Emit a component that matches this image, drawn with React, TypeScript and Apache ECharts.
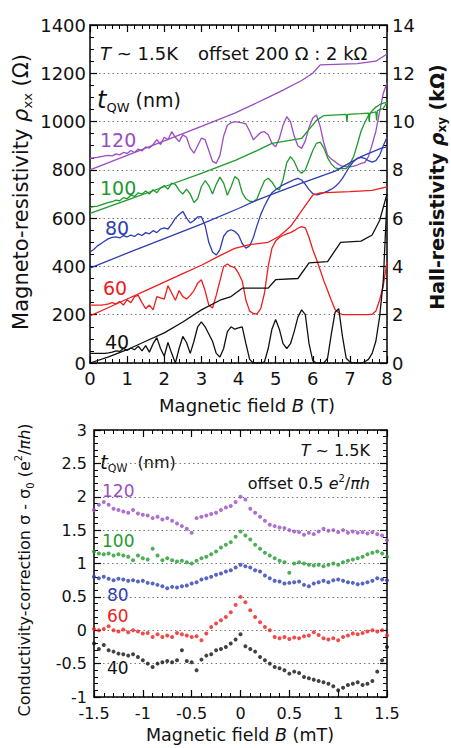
import React, { useEffect, useRef } from 'react';
import * as echarts from 'echarts';

// ---------- Top panel: magneto-resistivity (Ω) vs B (T), step 0.1 T ----------
const fieldT = Array.from({ length: 81 }, (_, i) => i / 10);

const rhoXX40 = [40, 40, 40, 40, 40, 42, 45, 50, 48, 60, 52, 62, 55, 70, 50, 72, 45, 80, 105, 60, 28, 85, 40, 0, 60, 110, 85, 40, 90, 150, 170, 150, 120, 90, 40, 25, 60, 130, 150, 140, 145, 150, 80, 15, 0, 0, 0, 5, 60, 140, 180, 140, 80, 60, 80, 130, 190, 220, 200, 80, 10, 0, 0, 0, 20, 120, 210, 225, 110, 20, 5, 0, 0, 0, 5, 15, 40, 90, 190, 340, 680];
const rhoXX60 = [240, 240, 240, 240, 242, 245, 250, 245, 255, 240, 262, 250, 275, 280, 250, 225, 240, 220, 275, 270, 265, 320, 290, 260, 300, 275, 265, 280, 300, 330, 345, 300, 240, 228, 280, 340, 400, 410, 400, 395, 372, 340, 260, 215, 205, 203, 225, 290, 400, 475, 505, 520, 528, 535, 540, 548, 558, 565, 560, 520, 470, 430, 385, 340, 300, 260, 222, 208, 200, 200, 200, 200, 200, 200, 200, 200, 202, 215, 260, 320, 420];
const rhoXX80 = [460, 470, 485, 495, 505, 515, 520, 522, 518, 528, 522, 530, 524, 535, 528, 540, 535, 548, 540, 555, 560, 555, 575, 600, 615, 628, 600, 580, 590, 605, 606, 570, 500, 460, 447, 470, 525, 545, 552, 545, 530, 495, 476, 485, 520, 570, 615, 650, 680, 705, 718, 728, 738, 745, 752, 760, 765, 758, 740, 718, 702, 696, 700, 706, 712, 720, 730, 745, 765, 790, 815, 835, 848, 852, 848, 838, 832, 838, 860, 900, 935];
const rhoXX100 = [645, 648, 650, 655, 660, 665, 668, 675, 672, 685, 680, 695, 690, 705, 700, 712, 700, 718, 705, 725, 735, 720, 745, 740, 715, 700, 720, 700, 665, 680, 730, 755, 735, 700, 740, 770, 745, 695, 730, 772, 760, 705, 680, 670, 668, 680, 720, 755, 765, 750, 725, 717, 760, 830, 855, 835, 800, 786, 800, 840, 880, 910, 915, 890, 850, 825, 808, 805, 805, 805, 825, 855, 905, 960, 995, 1025, 1045, 1060, 1070, 1076, 1080];
const rhoXX120 = [848, 850, 852, 855, 858, 860, 858, 866, 862, 872, 868, 880, 872, 886, 878, 895, 890, 905, 925, 905, 935, 925, 958, 935, 917, 945, 935, 890, 869, 900, 931, 925, 880, 835, 827, 860, 940, 985, 995, 1000, 998, 995, 990, 960, 925, 940, 955, 958, 945, 910, 896, 930, 985, 1020, 1000, 940, 900, 889, 920, 975, 1015, 1027, 980, 910, 860, 845, 834, 822, 815, 813, 812, 815, 820, 827, 830, 855, 905, 960, 1040, 1117, 1160];

// Hall resistivity (kΩ), sampled at plateau / step positions
const hallB40 = [0, 0.5, 1, 1.5, 2, 2.5, 3, 3.5, 3.8, 4.1, 4.8, 5.0, 5.6, 5.9, 6.4, 6.75, 7.3, 7.6, 7.8, 8.0];
const hall40 = [0, 0.25, 0.55, 0.9, 1.25, 1.7, 2.2, 2.6, 2.75, 3.1, 3.1, 3.45, 3.5, 4.15, 4.2, 5.0, 5.05, 5.3, 5.9, 7.0];
const hallB60 = [0, 0.5, 1, 1.5, 2, 2.5, 3, 3.5, 3.9, 4.3, 4.8, 5.1, 5.4, 5.7, 6.0, 6.2, 7.0, 7.6, 8.0];
const hall60 = [1.95, 2.3, 2.65, 3.0, 3.35, 3.7, 4.05, 4.45, 4.75, 4.9, 5.0, 5.25, 5.65, 6.3, 6.95, 7.05, 7.1, 7.15, 7.3];
const hallB80 = [0, 1, 2, 3, 4, 4.5, 5, 5.7, 6.6, 7.3, 7.85, 8];
const hall80 = [3.93, 4.55, 5.15, 5.75, 6.4, 6.75, 7.05, 7.45, 7.95, 8.55, 8.9, 8.95];
const hallB100 = [0, 1, 2, 3, 3.93, 4.5, 4.9, 5.7, 6.1, 6.3, 6.9, 6.92, 6.94, 7.3, 7.5, 7.52, 7.54, 7.7, 7.72, 7.74, 7.9, 8];
const hall100 = [6.2, 6.75, 7.3, 7.85, 8.4, 8.8, 9.1, 9.3, 10.05, 10.25, 10.3, 10.0, 10.3, 10.33, 10.35, 10.0, 10.35, 10.4, 10.05, 10.45, 10.55, 10.8];
const hallB120 = [0, 1, 2, 3, 3.9, 4.8, 5.2, 5.7, 6.0, 6.2, 7.2, 7.7, 8];
const hall120 = [8.0, 8.6, 9.2, 9.8, 10.35, 11.0, 11.3, 11.7, 12.0, 12.35, 12.4, 12.5, 12.8];

// ---------- Bottom panel: conductivity correction vs B (mT), step 0.05 mT ----------
const fieldMT = Array.from({ length: 61 }, (_, i) => (i - 30) / 20);

const sigma120 = [1.80, 1.88, 1.92, 1.88, 1.82, 1.80, 1.78, 1.76, 1.80, 1.75, 1.73, 1.72, 1.68, 1.70, 1.66, 1.68, 1.64, 1.60, 1.56, 1.52, 1.46, 1.68, 1.70, 1.72, 1.74, 1.76, 1.80, 1.84, 1.86, 1.92, 2.00, 1.96, 1.82, 1.76, 1.70, 1.64, 1.58, 1.56, 1.54, 1.53, 1.50, 1.48, 1.47, 1.43, 1.46, 1.44, 1.48, 1.52, 1.49, 1.50, 1.47, 1.50, 1.46, 1.48, 1.46, 1.47, 1.45, 1.47, 1.44, 1.42, 1.35];
const sigma100 = [1.18, 1.15, 1.14, 1.15, 1.12, 1.14, 1.12, 1.10, 1.05, 1.12, 1.08, 1.06, 1.22, 1.12, 1.05, 1.08, 1.05, 1.03, 1.04, 1.02, 1.00, 1.04, 1.08, 1.10, 1.14, 1.18, 1.24, 1.28, 1.32, 1.40, 1.48, 1.42, 1.36, 1.28, 1.22, 1.16, 1.12, 1.08, 1.04, 1.02, 0.86, 1.00, 1.02, 1.00, 0.98, 0.97, 0.98, 0.96, 0.98, 1.00, 0.98, 1.02, 1.04, 1.06, 1.08, 1.10, 1.14, 1.16, 1.18, 1.15, 1.10];
const sigma80 = [0.80, 0.78, 0.80, 0.77, 0.75, 0.77, 0.76, 0.74, 0.75, 0.73, 0.74, 0.71, 0.70, 0.68, 0.66, 0.63, 0.65, 0.64, 0.66, 0.67, 0.70, 0.72, 0.76, 0.78, 0.80, 0.83, 0.85, 0.88, 0.90, 0.94, 0.98, 0.96, 0.94, 0.90, 0.88, 0.82, 0.78, 0.74, 0.73, 0.70, 0.71, 0.72, 0.73, 0.68, 0.66, 0.70, 0.72, 0.74, 0.72, 0.75, 0.76, 0.74, 0.72, 0.71, 0.69, 0.70, 0.72, 0.74, 0.78, 0.76, 0.75];
const sigma60 = [0.02, 0.00, 0.02, 0.06, 0.00, -0.02, 0.01, -0.03, 0.00, -0.02, -0.05, -0.04, -0.10, -0.06, -0.10, -0.08, -0.10, -0.04, -0.06, -0.08, -0.10, -0.09, -0.15, -0.05, 0.05, 0.10, 0.15, 0.20, 0.27, 0.38, 0.50, 0.42, 0.30, 0.20, 0.12, 0.05, 0.00, -0.10, -0.12, -0.10, -0.13, -0.11, -0.12, -0.09, -0.08, -0.03, -0.07, -0.12, -0.14, -0.12, -0.15, -0.10, -0.08, -0.05, -0.06, -0.04, -0.02, 0.00, -0.02, 0.00, -0.08];
const sigma40 = [-0.20, -0.28, -0.22, -0.30, -0.32, -0.35, -0.36, -0.38, -0.36, -0.40, -0.45, -0.50, -0.55, -0.50, -0.48, -0.46, -0.48, -0.45, -0.30, -0.46, -0.48, -0.60, -0.44, -0.38, -0.36, -0.30, -0.28, -0.25, -0.20, -0.14, -0.06, -0.24, -0.28, -0.32, -0.40, -0.45, -0.50, -0.55, -0.57, -0.60, -0.65, -0.62, -0.64, -0.70, -0.72, -0.74, -0.76, -0.78, -0.80, -0.84, -0.90, -0.86, -0.82, -0.80, -0.78, -0.82, -0.80, -0.76, -0.62, -0.45, -0.25];

const thickness = ['120', '100', '80', '60', '40'];
const colors = { 120: '#9a4cc4', 100: '#1f9a2c', 80: '#2d3db3', 60: '#f01c1c', 40: '#111111' } as Record<string, string>;

const FONT = 'DejaVu Sans';

function pairs(xs: number[], ys: number[]) {
  return xs.map((x, i) => [x, ys[i]]);
}

const plain = (v: number) => String(v);

function frameAxisX(gridIndex: number, min: number, max: number, interval: number, top: boolean, fontSize: number, margin: number, lineHeight: number) {
  return {
    type: 'value', gridIndex, min, max, interval,
    position: top ? 'top' : 'bottom',
    axisLine: { show: true, onZero: false, lineStyle: { color: '#000', width: 1.5 } },
    axisTick: { show: true, inside: true, length: 7, lineStyle: { color: '#000', width: 1.2 } },
    minorTick: { show: true, splitNumber: 5, length: 4, lineStyle: { color: '#000', width: 1 } },
    axisLabel: { show: !top, margin, color: '#111', fontFamily: FONT, fontSize, lineHeight, formatter: plain },
    splitLine: { show: false },
  };
}

function frameAxisY(gridIndex: number, min: number, max: number, interval: number, right: boolean, showLabel: boolean, grid: boolean, fontSize: number, minorSplit: number, margin: number, lineHeight: number) {
  return {
    type: 'value', gridIndex, min, max, interval,
    position: right ? 'right' : 'left',
    axisLine: { show: true, onZero: false, lineStyle: { color: '#000', width: 1.5 } },
    axisTick: { show: true, inside: true, length: 7, lineStyle: { color: '#000', width: 1.2 } },
    minorTick: { show: true, splitNumber: minorSplit, length: 4, lineStyle: { color: '#000', width: 1 } },
    axisLabel: { show: showLabel, margin, color: '#111', fontFamily: FONT, fontSize, lineHeight, formatter: plain },
    splitLine: { show: grid, lineStyle: { color: '#777', width: 1, type: [1.5, 3] } },
  };
}

function txt(x: number, y: number, text: string, rich: any, align = 'left', rotation = 0) {
  return {
    type: 'text', x, y, rotation,
    style: { text, rich, align, verticalAlign: 'middle', textAlign: align, textVerticalAlign: 'middle', fill: '#111', fontFamily: FONT },
  };
}

export default function App() {
  const ref = useRef<HTMLDivElement>(null);
  useEffect(() => {
    if (!ref.current) return;
    const chart = echarts.init(ref.current, undefined, { renderer: 'svg' });

    const rhoMap: Record<string, number[]> = { 120: rhoXX120, 100: rhoXX100, 80: rhoXX80, 60: rhoXX60, 40: rhoXX40 };
    const hallMap: Record<string, [number[], number[]]> = {
      120: [hallB120, hall120], 100: [hallB100, hall100], 80: [hallB80, hall80], 60: [hallB60, hall60], 40: [hallB40, hall40],
    };
    const sigMap: Record<string, number[]> = { 120: sigma120, 100: sigma100, 80: sigma80, 60: sigma60, 40: sigma40 };

    const series: any[] = [];
    thickness.forEach((t) => {
      series.push({
        type: 'line', xAxisIndex: 0, yAxisIndex: 0, data: pairs(fieldT, rhoMap[t]),
        showSymbol: false, symbol: 'none', lineStyle: { color: colors[t], width: 1.3 }, silent: true,
      });
      series.push({
        type: 'line', xAxisIndex: 0, yAxisIndex: 1, data: pairs(hallMap[t][0], hallMap[t][1]),
        showSymbol: false, symbol: 'none', lineStyle: { color: colors[t], width: 1.3 }, silent: true,
      });
      series.push({
        type: 'scatter', xAxisIndex: 2, yAxisIndex: 2, data: pairs(fieldMT, sigMap[t]),
        symbol: 'circle', symbolSize: 4, itemStyle: { color: colors[t] }, silent: true,
      });
    });

    const base = (size: number, extra: any = {}) => ({ fontSize: size, fontFamily: FONT, fill: '#111', color: '#111', ...extra });

    const graphic: any[] = [
      // top panel annotations
      txt(100, 53, '{i|T}{a| ~ 1.5K}', { i: base(18, { fontStyle: 'italic' }), a: base(18) }),
      txt(198, 53, '{a|offset 200 Ω : 2 kΩ}', { a: base(18) }),
      txt(97, 100, '{t|t}{s|QW}{a| (nm)}', { t: base(24, { fontStyle: 'italic', lineHeight: 28 }), s: base(13, { verticalAlign: 'bottom', lineHeight: 14 }), a: base(19, { lineHeight: 28 }) }),
      txt(100, 140, '{a|120}', { a: base(19, { fill: colors['120'], color: colors['120'] }) }),
      txt(100, 188, '{a|100}', { a: base(19, { fill: colors['100'], color: colors['100'] }) }),
      txt(105, 228, '{a|80}', { a: base(19, { fill: colors['80'], color: colors['80'] }) }),
      txt(103, 288, '{a|60}', { a: base(19, { fill: colors['60'], color: colors['60'] }) }),
      txt(105, 342, '{a|40}', { a: base(19, { fill: colors['40'], color: colors['40'] }) }),
      // top panel axis names
      txt(21, 192, '{a|Magneto-resistivity }{i|ρ}{s|xx}{a| (Ω)}', {
        a: base(21, { lineHeight: 26 }), i: base(21, { fontStyle: 'italic', lineHeight: 26 }), s: base(13, { verticalAlign: 'bottom', lineHeight: 13 }),
      }, 'center', Math.PI / 2),
      txt(437, 187, '{a|Hall-resistivity }{i|ρ}{s|xy}{a| (kΩ)}', {
        a: base(19, { fontWeight: 'bold', lineHeight: 22 }), i: base(19, { fontWeight: 'bold', fontStyle: 'italic', lineHeight: 22 }), s: base(12, { fontWeight: 'bold', verticalAlign: 'bottom', lineHeight: 12 }),
      }, 'center', Math.PI / 2),
      txt(247, 405, '{a|Magnetic field }{i|B}{a| (T)}', { a: base(18), i: base(18, { fontStyle: 'italic' }) }, 'center'),
      // bottom panel annotations
      txt(370, 450, '{i|T}{a| ~ 1.5K}', { i: base(16, { fontStyle: 'italic' }), a: base(16) }, 'right'),
      txt(100, 462, '{t|t}{s|QW}{a|  (nm)}', { t: base(20, { fontStyle: 'italic', lineHeight: 24 }), s: base(11, { verticalAlign: 'bottom', lineHeight: 12 }), a: base(16, { lineHeight: 24 }) }),
      txt(370, 483, '{a|offset 0.5 }{i|e}{p|2}{a|/}{i|πh}', {
        a: base(16, { lineHeight: 20 }), i: base(16, { fontStyle: 'italic', lineHeight: 20 }), p: base(10, { verticalAlign: 'top', lineHeight: 10 }),
      }, 'right'),
      txt(102, 491, '{a|120}', { a: base(17, { fill: colors['120'], color: colors['120'] }) }),
      txt(102, 541, '{a|100}', { a: base(17, { fill: colors['100'], color: colors['100'] }) }),
      txt(107, 595, '{a|80}', { a: base(17, { fill: colors['80'], color: colors['80'] }) }),
      txt(107, 616, '{a|60}', { a: base(17, { fill: colors['60'], color: colors['60'] }) }),
      txt(107, 668, '{a|40}', { a: base(17, { fill: colors['40'], color: colors['40'] }) }),
      txt(24, 570, '{a|Conductivity-correction σ - σ}{s|0}{a| (e}{p|2}{a|/}{i|πh}{a|)}', {
        a: base(16, { lineHeight: 22 }), i: base(16, { fontStyle: 'italic', lineHeight: 22 }),
        s: base(10, { verticalAlign: 'bottom', lineHeight: 10 }), p: base(10, { verticalAlign: 'top', lineHeight: 10 }),
      }, 'center', Math.PI / 2),
      txt(240, 735, '{a|Magnetic field }{i|B}{a| (mT)}', { a: base(17.5), i: base(17.5, { fontStyle: 'italic' }) }, 'center'),
    ];

    chart.setOption({
      animation: false,
      backgroundColor: '#ffffff',
      grid: [
        { left: 90, top: 25, width: 297, height: 338 },
        { left: 94, top: 430, width: 293, height: 267 },
      ],
      xAxis: [
        frameAxisX(0, 0, 8, 1, false, 18, 5, 20),
        frameAxisX(0, 0, 8, 1, true, 18, 5, 20),
        frameAxisX(1, -1.5, 1.5, 0.5, false, 16, 8, 16),
        frameAxisX(1, -1.5, 1.5, 0.5, true, 16, 8, 16),
      ],
      yAxis: [
        frameAxisY(0, 0, 1400, 200, false, true, true, 18, 4, 4, 20),
        frameAxisY(0, 0, 14, 2, true, true, false, 18, 4, 5, 20),
        frameAxisY(1, -1, 3, 0.5, false, true, true, 16, 5, 7, 13),
        frameAxisY(1, -1, 3, 0.5, true, false, false, 16, 5, 5, 13),
      ],
      series,
      graphic,
    });
    return () => chart.dispose();
  }, []);
  return <div ref={ref} style={{ position: 'absolute', left: 0, top: 0, width: 451, height: 748, background: '#fff' }} />;
}
